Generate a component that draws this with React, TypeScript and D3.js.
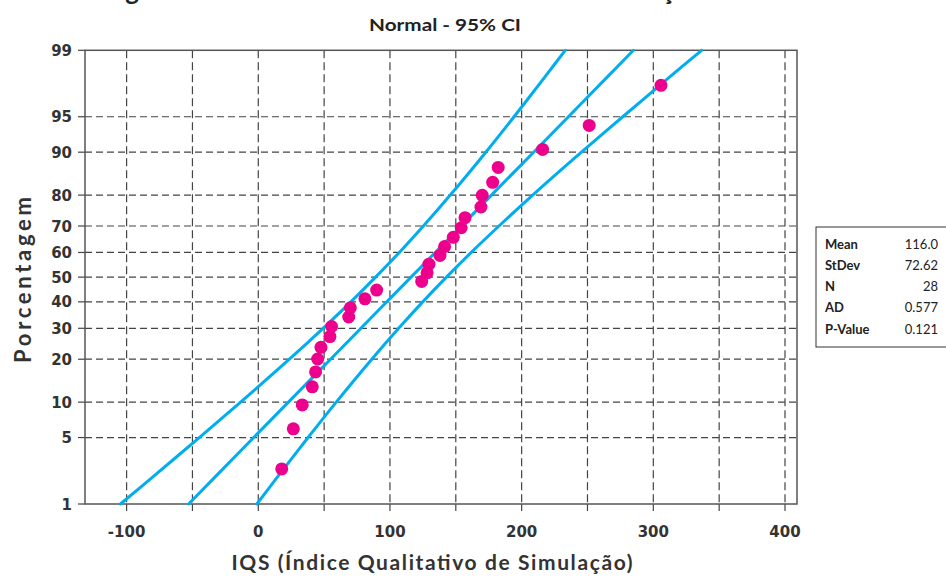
import React from "react";
import * as d3 from "d3";

// ---- data ----
const iqsValues = [17.8, 26.6, 33.4, 41.0, 43.5, 45.1, 47.6, 54.4, 55.7, 68.7, 69.9, 81.0, 89.9, 124.1, 128.2, 129.6, 138.0, 141.5, 148.1, 154.1, 157.0, 169.1, 170.1, 178.0, 182.2, 215.9, 251.3, 305.8];
const pointPercents = [2.46, 5.99, 9.51, 13.03, 16.55, 20.07, 23.59, 27.11, 30.63, 34.15, 37.68, 41.2, 44.72, 48.24, 51.76, 55.28, 58.8, 62.32, 65.85, 69.37, 72.89, 76.41, 79.93, 83.45, 86.97, 90.49, 94.01, 97.54];

const bandPercents = [1, 2, 5, 10, 20, 30, 40, 50, 60, 70, 80, 90, 95, 98, 99];
const fitLine = [-52.9, -33.1, -3.5, 22.9, 54.9, 77.9, 97.6, 116.0, 134.4, 154.1, 177.1, 209.1, 235.5, 265.1, 284.9];
const lowerBand = [-104.7, -80.5, -44.8, -13.4, 23.6, 49.2, 70.3, 89.1, 107.1, 125.4, 145.8, 172.8, 194.2, 217.7, 233.1];
const upperBand = [-1.1, 14.3, 37.8, 59.2, 86.2, 106.6, 124.9, 142.9, 161.7, 182.8, 208.4, 245.4, 276.8, 312.5, 336.7];

const yTicks = [1, 5, 10, 20, 30, 40, 50, 60, 70, 80, 90, 95, 99];
const xTicks = [-100, 0, 100, 200, 300, 400];
const xGrid = [-100, -50, 0, 50, 100, 150, 200, 250, 300, 350, 400];

const statLabels = ["Mean", "StDev", "N", "AD", "P-Value"];
const statValues = ["116.0", "72.62", "28", "0.577", "0.121"];

const title = "Diagrama de Probabilidade Normal - Simulação";
const subtitle = "Normal - 95% CI";
const xLabel = "IQS (Índice Qualitativo de Simulação)";
const yLabel = "Porcentagem";

// inverse normal CDF (Acklam) — used as the probability-axis transform
function probit(p: number): number {
  const a = [-3.969683028665376e1, 2.209460984245205e2, -2.759285104469687e2, 1.38357751867269e2, -3.066479806614716e1, 2.506628277459239];
  const b = [-5.447609879822406e1, 1.615858368580409e2, -1.556989798598866e2, 6.680131188771972e1, -1.328068155288572e1];
  const c = [-7.784894002430293e-3, -3.223964580411365e-1, -2.400758277161838, -2.549732539343734, 4.374664141464968, 2.938163982698783];
  const d = [7.784695709041462e-3, 3.224671290700398e-1, 2.445134137142996, 3.754408661907416];
  const pl = 0.02425;
  if (p < pl) {
    const q = Math.sqrt(-2 * Math.log(p));
    return (((((c[0] * q + c[1]) * q + c[2]) * q + c[3]) * q + c[4]) * q + c[5]) / ((((d[0] * q + d[1]) * q + d[2]) * q + d[3]) * q + 1);
  }
  if (p > 1 - pl) {
    const q = Math.sqrt(-2 * Math.log(1 - p));
    return -(((((c[0] * q + c[1]) * q + c[2]) * q + c[3]) * q + c[4]) * q + c[5]) / ((((d[0] * q + d[1]) * q + d[2]) * q + d[3]) * q + 1);
  }
  const q = p - 0.5;
  const r = q * q;
  return ((((((a[0] * r + a[1]) * r + a[2]) * r + a[3]) * r + a[4]) * r + a[5]) * q) / (((((b[0] * r + b[1]) * r + b[2]) * r + b[3]) * r + b[4]) * r + 1);
}

const W = 946;
const H = 577;
const frame = { left: 85, right: 797, top: 50.3, bottom: 504 };

const x = d3.scaleLinear().domain([-100, 400]).range([126.6, 785.0]);
const zScale = d3.scaleLinear().domain([probit(0.01), probit(0.99)]).range([frame.bottom, frame.top]);
const y = (pct: number) => zScale(probit(pct / 100));

const tickFont = "'DejaVu Sans', sans-serif";
const textFont = "Lato, 'Open Sans', sans-serif";

export default function App() {
  const line = d3
    .line<[number, number]>()
    .x((d) => x(d[0]))
    .y((d) => y(d[1]))
    .curve(d3.curveCatmullRom);

  const bands = [lowerBand, fitLine, upperBand].map((vals) =>
    line(vals.map((v, i) => [v, bandPercents[i]] as [number, number]))
  );

  const gridColor = "#444";
  const statX = 816;
  const statY = 227;

  return (
    <svg
      width={W}
      height={H}
      style={{ position: "absolute", left: 0, top: 0, background: "#fff", overflow: "hidden" }}
    >
      <rect x={0} y={0} width={W} height={H} fill="#fff" />
      {/* title, clipped by the top edge as in the reference */}
      <text x={80} y={0} textLength={626} lengthAdjust="spacing" fontFamily={textFont} fontWeight={700} fontSize={26} fill="#222">
        {title}
      </text>
      <text x={445} y={31} textAnchor="middle" textLength={152} lengthAdjust="spacingAndGlyphs" fontFamily={textFont} fontWeight={700} fontSize={17} fill="#222">
        {subtitle}
      </text>

      {/* grid */}
      {xGrid.map((v) => (
        <g key={"xg" + v}>
          <line x1={x(v)} x2={x(v)} y1={frame.top} y2={frame.bottom} stroke={gridColor} strokeWidth={1.2} strokeDasharray="8,4" />
          <line x1={x(v)} x2={x(v)} y1={frame.bottom} y2={frame.bottom + 7} stroke={gridColor} strokeWidth={1.2} />
        </g>
      ))}
      {yTicks.map((p) => (
        <g key={"yg" + p}>
          {p !== 1 && p !== 99 && (
            <line x1={frame.left} x2={frame.right} y1={y(p)} y2={y(p)} stroke={gridColor} strokeWidth={1.2} strokeDasharray="7,4" />
          )}
          <line x1={frame.left - 7} x2={frame.left} y1={y(p)} y2={y(p)} stroke={gridColor} strokeWidth={1.2} />
          <text x={frame.left - 13} y={y(p) + 5.5} textAnchor="end" fontFamily={tickFont} fontWeight={700} fontSize={15} fill="#333">
            {p}
          </text>
        </g>
      ))}
      {xTicks.map((v) => (
        <text key={"xt" + v} x={x(v)} y={537} textAnchor="middle" fontFamily={tickFont} fontWeight={700} fontSize={15} fill="#333">
          {v}
        </text>
      ))}

      {/* frame */}
      <rect
        x={frame.left}
        y={frame.top}
        width={frame.right - frame.left}
        height={frame.bottom - frame.top}
        fill="none"
        stroke="#555"
        strokeWidth={1.5}
      />

      {/* bands and fit */}
      {bands.map((d, i) => (
        <path key={"b" + i} d={d || ""} fill="none" stroke="#00AEEF" strokeWidth={3} strokeLinecap="round" />
      ))}

      {/* points */}
      {iqsValues.map((v, i) => (
        <circle key={"p" + i} cx={x(v)} cy={y(pointPercents[i])} r={6.5} fill="#EC008C" />
      ))}

      {/* axis labels */}
      <text
        x={432}
        y={570}
        textAnchor="middle"
        textLength={401}
        lengthAdjust="spacing"
        fontFamily={textFont}
        fontWeight={700}
        fontSize={21}
        fill="#333"
      >
        {xLabel}
      </text>
      <text
        transform={`translate(31,280) rotate(-90)`}
        textAnchor="middle"
        textLength={166}
        lengthAdjust="spacing"
        fontFamily={textFont}
        fontWeight={700}
        fontSize={22}
        fill="#333"
      >
        {yLabel}
      </text>

      {/* stats box */}
      <rect x={statX} y={statY} width={150} height={120} fill="#fff" stroke="#333" strokeWidth={1} />
      {statLabels.map((lab, i) => (
        <g key={"s" + i}>
          <text x={825} y={248.5 + i * 21.3} fontFamily={textFont} fontWeight={700} fontSize={13} fill="#222">
            {lab}
          </text>
          <text x={938} y={248.5 + i * 21.3} textAnchor="end" fontFamily={textFont} fontSize={13} fill="#222">
            {statValues[i]}
          </text>
        </g>
      ))}
    </svg>
  );
}
